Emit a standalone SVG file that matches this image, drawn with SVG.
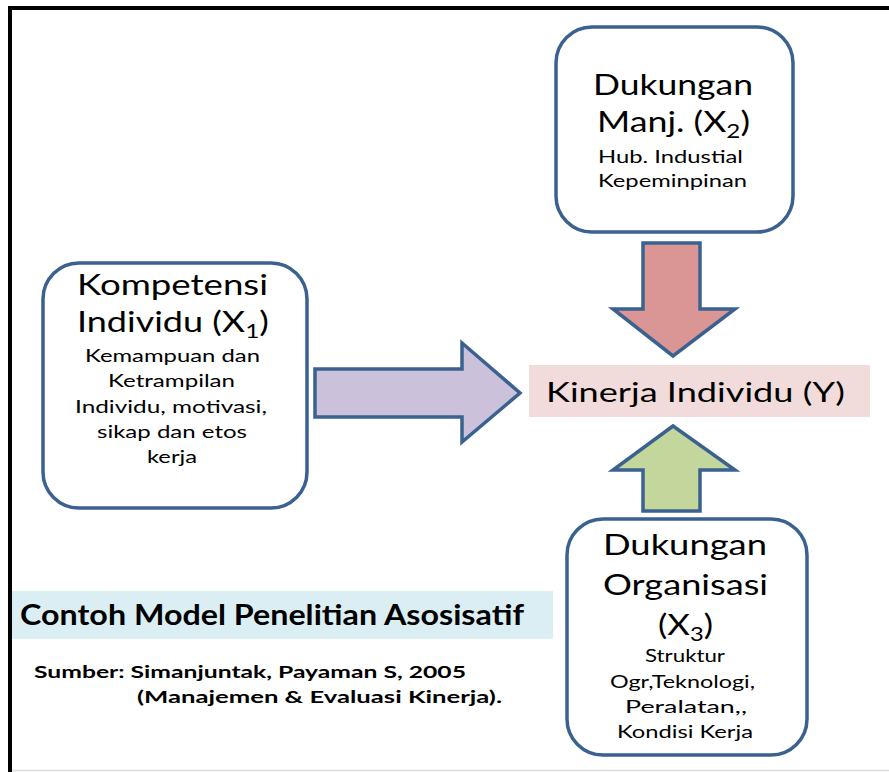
<svg xmlns="http://www.w3.org/2000/svg" width="889" height="772" viewBox="0 0 889 772">
<style>
text{font-family:Lato,"Open Sans","Liberation Sans",sans-serif;fill:#000;text-anchor:middle}
.big{font-size:28px}
.sm{font-size:18px}
.box{fill:#fff;stroke:#3a6190;stroke-width:3.5}
.arr{stroke:#3a6190;stroke-width:3.5;stroke-linejoin:miter}
.b{font-weight:bold}
</style>
<rect x="0" y="0" width="889" height="772" fill="#fff"/>
<g id="frame">
<rect x="8" y="6" width="881" height="4" fill="#000"/>
<rect x="8" y="6" width="4" height="766" fill="#000"/>
<line x1="12" y1="770.5" x2="889" y2="770.5" stroke="#dcdcdc" stroke-width="1.5"/>
</g>
<g id="connectors">
<polygon class="arr" fill="#d99694" points="643,243 700,243 700,309 735,309 673,356 613,309 643,309"/>
<polygon class="arr" fill="#c3d69b" points="673,426 735,470 700,470 700,511 643,511 643,470 613,470"/>
<polygon class="arr" fill="#ccc1da" points="315,369 462,369 462,343 520,393 462,442 462,417 315,417"/>
</g>
<g id="x1">
<rect class="box" x="43" y="263" width="264" height="245" rx="36"/>
<text class="big" x="172.5" y="295" textLength="191" lengthAdjust="spacingAndGlyphs">Kompetensi</text>
<text class="big" x="173" y="332" textLength="192" lengthAdjust="spacingAndGlyphs">Individu (X<tspan font-size="19" dy="6">1</tspan><tspan dy="-6">)</tspan></text>
<text class="sm" x="172.5" y="362" textLength="175" lengthAdjust="spacingAndGlyphs">Kemampuan  dan</text>
<text class="sm" x="171.5" y="387" textLength="127" lengthAdjust="spacingAndGlyphs">Ketrampilan</text>
<text class="sm" x="171" y="413" textLength="192" lengthAdjust="spacingAndGlyphs">Individu, motivasi,</text>
<text class="sm" x="172" y="438" textLength="150" lengthAdjust="spacingAndGlyphs">sikap dan etos</text>
<text class="sm" x="172" y="463" textLength="50" lengthAdjust="spacingAndGlyphs">kerja</text>
</g>
<g id="x2">
<rect class="box" x="556" y="27" width="237" height="205" rx="36"/>
<text class="big" x="673" y="95" textLength="160" lengthAdjust="spacingAndGlyphs">Dukungan</text>
<text class="big" x="673.5" y="132" textLength="153" lengthAdjust="spacingAndGlyphs">Manj. (X<tspan font-size="19" dy="6">2</tspan><tspan dy="-6">)</tspan></text>
<text class="sm" x="670.5" y="163" textLength="145" lengthAdjust="spacingAndGlyphs">Hub. Industial</text>
<text class="sm" x="672.5" y="187" textLength="149" lengthAdjust="spacingAndGlyphs">Kepeminpinan</text>
</g>
<g id="y">
<rect x="529" y="365" width="341" height="52" fill="#f2dcdb"/>
<text x="695.5" y="402" font-size="27" textLength="299" lengthAdjust="spacingAndGlyphs">Kinerja Individu (Y)</text>
</g>
<g id="x3">
<rect class="box" x="567" y="519" width="240" height="236" rx="36"/>
<text class="big" x="685" y="555" textLength="164" lengthAdjust="spacingAndGlyphs">Dukungan</text>
<text class="big" x="685.5" y="595" textLength="165" lengthAdjust="spacingAndGlyphs">Organisasi</text>
<text class="big" x="685.5" y="635" textLength="55" lengthAdjust="spacingAndGlyphs">(X<tspan font-size="19" dy="6">3</tspan><tspan dy="-6">)</tspan></text>
<text class="sm" x="685" y="662" textLength="80" lengthAdjust="spacingAndGlyphs">Struktur</text>
<text class="sm" x="682.5" y="688" textLength="145" lengthAdjust="spacingAndGlyphs">Ogr,Teknologi,</text>
<text class="sm" x="686" y="713" textLength="122" lengthAdjust="spacingAndGlyphs">Peralatan,,</text>
<text class="sm" x="685" y="738" textLength="136" lengthAdjust="spacingAndGlyphs">Kondisi Kerja</text>
</g>
<g id="title">
<rect x="12" y="591" width="541" height="48" fill="#dbeef3"/>
<text class="b" x="20" y="625" font-size="28" style="text-anchor:start" textLength="504" lengthAdjust="spacingAndGlyphs">Contoh Model Penelitian Asosisatif</text>
</g>
<g id="source">
<text class="b" x="34" y="678" font-size="17" style="text-anchor:start" textLength="432" lengthAdjust="spacingAndGlyphs">Sumber: Simanjuntak, Payaman S, 2005</text>
<text class="b" x="137" y="703" font-size="17" style="text-anchor:start" textLength="365" lengthAdjust="spacingAndGlyphs">(Manajemen &amp; Evaluasi Kinerja).</text>
</g>
</svg>
